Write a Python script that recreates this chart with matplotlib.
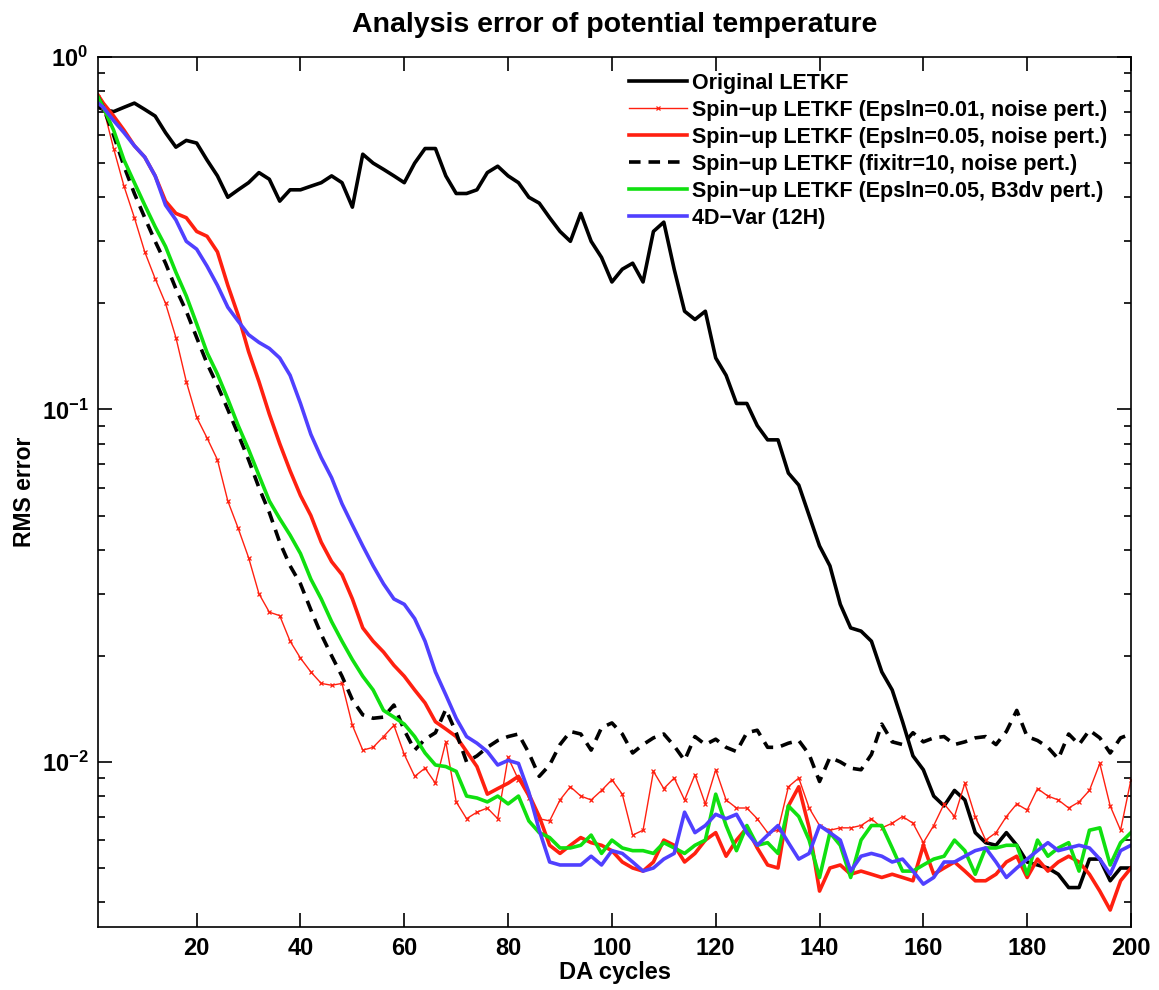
import numpy as np
import matplotlib
matplotlib.use("Agg")
import matplotlib.pyplot as plt

plt.rcParams["font.family"] = ["Liberation Sans", "DejaVu Sans"]
plt.rcParams["mathtext.fontset"] = "custom"
plt.rcParams["mathtext.rm"] = "Liberation Sans:bold"
plt.rcParams["mathtext.default"] = "rm"

# DA cycle index (first cycle, then every second cycle)
cycles = [1] + list(range(2, 201, 2))

original = [0.72, 0.71, 0.70, 0.72, 0.74, 0.71, 0.68, 0.61, 0.555, 0.58,
            0.57, 0.51, 0.46, 0.40, 0.42, 0.44, 0.47, 0.45, 0.39, 0.42,
            0.42, 0.43, 0.44, 0.46, 0.44, 0.375, 0.53, 0.50, 0.48, 0.46,
            0.44, 0.50, 0.55, 0.55, 0.46, 0.41, 0.41, 0.42, 0.47, 0.49,
            0.46, 0.44, 0.40, 0.385, 0.35, 0.32, 0.30, 0.36, 0.30, 0.27,
            0.23, 0.25, 0.26, 0.23, 0.32, 0.34, 0.25, 0.19, 0.18, 0.19,
            0.14, 0.125, 0.104, 0.104, 0.09, 0.082, 0.082, 0.066, 0.061, 0.05,
            0.041, 0.036, 0.028, 0.024, 0.0235, 0.022, 0.018, 0.016, 0.013, 0.0104,
            0.0095, 0.0080, 0.0075, 0.0083, 0.0078, 0.0063, 0.0059, 0.0058, 0.0063, 0.0058,
            0.0052, 0.0051, 0.0050, 0.0048, 0.0044, 0.0044, 0.0053, 0.0053, 0.0046, 0.0050,
            0.0050]

eps001_noise = [0.77, 0.72, 0.55, 0.43, 0.35, 0.28, 0.235, 0.20, 0.16, 0.12,
                0.095, 0.083, 0.072, 0.055, 0.046, 0.038, 0.030, 0.0266, 0.026, 0.022,
                0.0197, 0.018, 0.0167, 0.0165, 0.0167, 0.0127, 0.0108, 0.0110, 0.0118, 0.0127,
                0.0105, 0.0091, 0.0096, 0.0087, 0.0114, 0.0077, 0.0069, 0.0072, 0.0074, 0.0069,
                0.0103, 0.0089, 0.0079, 0.0069, 0.0068, 0.0078, 0.0085, 0.0080, 0.0078, 0.0083,
                0.0089, 0.0081, 0.0062, 0.0064, 0.0094, 0.0084, 0.0090, 0.0078, 0.0092, 0.0076,
                0.0095, 0.0078, 0.0074, 0.0074, 0.0069, 0.0063, 0.0064, 0.0085, 0.0090, 0.0074,
                0.0066, 0.0064, 0.0065, 0.0065, 0.0066, 0.0069, 0.0065, 0.0067, 0.0070, 0.0067,
                0.0059, 0.0066, 0.0076, 0.0070, 0.0087, 0.0070, 0.0060, 0.0063, 0.0070, 0.0076,
                0.0073, 0.0084, 0.0080, 0.0078, 0.0074, 0.0077, 0.0083, 0.0099, 0.0075, 0.0064,
                0.0089]

eps005_noise = [0.78, 0.74, 0.68, 0.62, 0.56, 0.52, 0.46, 0.39, 0.36, 0.35,
                0.32, 0.31, 0.28, 0.225, 0.185, 0.146, 0.12, 0.097, 0.08, 0.067,
                0.057, 0.05, 0.042, 0.037, 0.034, 0.029, 0.024, 0.022, 0.0205, 0.0188,
                0.0175, 0.016, 0.0147, 0.013, 0.0124, 0.0118, 0.0107, 0.0097, 0.0081, 0.0084,
                0.0087, 0.0091, 0.0081, 0.0070, 0.0058, 0.0055, 0.0058, 0.0061, 0.0059, 0.0058,
                0.0056, 0.0052, 0.0050, 0.0049, 0.0052, 0.0060, 0.0058, 0.0052, 0.0055, 0.0060,
                0.0063, 0.0054, 0.0060, 0.0065, 0.0057, 0.0051, 0.0050, 0.0075, 0.0085, 0.0065,
                0.0043, 0.0050, 0.0051, 0.0048, 0.0049, 0.0048, 0.0047, 0.0048, 0.0047, 0.0046,
                0.0058, 0.0048, 0.0050, 0.0052, 0.0049, 0.0046, 0.0046, 0.0048, 0.0052, 0.0054,
                0.0047, 0.0053, 0.0049, 0.0052, 0.0054, 0.0052, 0.0048, 0.0043, 0.0038, 0.0046,
                0.0050]

fixitr10_noise = [0.77, 0.72, 0.60, 0.49, 0.41, 0.35, 0.30, 0.26, 0.22, 0.19,
                  0.16, 0.135, 0.117, 0.10, 0.085, 0.072, 0.060, 0.051, 0.042, 0.036,
                  0.032, 0.027, 0.023, 0.020, 0.0175, 0.015, 0.0136, 0.0133, 0.0134, 0.0145,
                  0.0123, 0.0108, 0.0116, 0.0121, 0.0141, 0.0121, 0.0100, 0.0104, 0.0110, 0.0115,
                  0.0118, 0.0120, 0.0106, 0.0091, 0.0098, 0.0112, 0.0122, 0.0120, 0.0108, 0.0125,
                  0.0129, 0.0120, 0.0106, 0.0112, 0.0117, 0.0120, 0.0111, 0.0101, 0.0118, 0.0112,
                  0.0116, 0.0110, 0.0107, 0.0121, 0.0123, 0.0110, 0.0110, 0.0113, 0.0115, 0.0105,
                  0.0088, 0.0103, 0.0100, 0.0096, 0.0095, 0.0105, 0.0128, 0.0114, 0.0112, 0.0121,
                  0.0114, 0.0117, 0.0118, 0.0112, 0.0114, 0.0117, 0.0118, 0.0112, 0.0122, 0.0140,
                  0.0118, 0.0115, 0.0110, 0.0102, 0.0120, 0.0112, 0.0123, 0.0117, 0.0106, 0.0117,
                  0.0120]

eps005_b3dv = [0.77, 0.72, 0.62, 0.51, 0.44, 0.38, 0.33, 0.29, 0.245, 0.21,
               0.175, 0.145, 0.126, 0.107, 0.09, 0.077, 0.065, 0.055, 0.049, 0.044,
               0.039, 0.033, 0.029, 0.025, 0.022, 0.0195, 0.0175, 0.016, 0.014, 0.0134,
               0.0128, 0.0118, 0.0106, 0.0098, 0.0097, 0.0094, 0.0080, 0.0079, 0.0077, 0.0080,
               0.0076, 0.0080, 0.0068, 0.0063, 0.0061, 0.0057, 0.0057, 0.0058, 0.0062, 0.0055,
               0.0060, 0.0057, 0.0056, 0.0056, 0.0055, 0.0059, 0.0057, 0.0055, 0.0058, 0.0060,
               0.0081, 0.0066, 0.0056, 0.0066, 0.0058, 0.0059, 0.0055, 0.0075, 0.0070, 0.0060,
               0.0047, 0.0063, 0.0058, 0.0047, 0.0060, 0.0066, 0.0066, 0.0057, 0.0049, 0.0049,
               0.0051, 0.0053, 0.0054, 0.0060, 0.0056, 0.0048, 0.0057, 0.0057, 0.0058, 0.0058,
               0.0048, 0.0060, 0.0054, 0.0057, 0.0059, 0.0049, 0.0064, 0.0065, 0.0051, 0.0059,
               0.0063]

var4d_12h = [0.74, 0.72, 0.66, 0.61, 0.56, 0.52, 0.46, 0.38, 0.345, 0.30,
             0.285, 0.255, 0.225, 0.195, 0.178, 0.163, 0.155, 0.149, 0.14, 0.125,
             0.104, 0.085, 0.073, 0.064, 0.054, 0.047, 0.041, 0.036, 0.032, 0.029,
             0.028, 0.0255, 0.022, 0.018, 0.0155, 0.0133, 0.0118, 0.0113, 0.0107, 0.0098,
             0.0101, 0.0099, 0.0082, 0.0064, 0.0052, 0.0051, 0.0051, 0.0051, 0.0054, 0.0051,
             0.0056, 0.0055, 0.0052, 0.0049, 0.0050, 0.0053, 0.0055, 0.0072, 0.0063, 0.0066,
             0.0071, 0.0069, 0.0071, 0.0063, 0.0058, 0.0062, 0.0066, 0.0059, 0.0053, 0.0055,
             0.0066, 0.0063, 0.0060, 0.0049, 0.0054, 0.0055, 0.0054, 0.0052, 0.0053, 0.0049,
             0.0045, 0.0047, 0.0052, 0.0052, 0.0054, 0.0056, 0.0057, 0.0052, 0.0047, 0.0050,
             0.0053, 0.0056, 0.0059, 0.0056, 0.0057, 0.0058, 0.0057, 0.0053, 0.0048, 0.0056,
             0.0058]

labels = ["Original LETKF",
          "Spin\u2212up LETKF (Epsln=0.01, noise pert.)",
          "Spin\u2212up LETKF (Epsln=0.05, noise pert.)",
          "Spin\u2212up LETKF (fixitr=10, noise pert.)",
          "Spin\u2212up LETKF (Epsln=0.05, B3dv pert.)",
          "4D\u2212Var (12H)"]

fig = plt.figure(figsize=(11.59, 9.9), dpi=100)
ax = fig.add_axes([0.0846, 0.0636, 0.8912, 0.8788])

ax.plot(cycles, original, color="black", lw=2.6, label=labels[0])
ax.plot(cycles, eps001_noise, color="#ff2010", lw=1.0, marker="x", ms=3.5,
        mew=0.9, label=labels[1])
ax.plot(cycles, eps005_noise, color="#ff2010", lw=2.6, label=labels[2])
ax.plot(cycles, fixitr10_noise, color="black", lw=2.6, ls=(0, (3.2, 2.2)), label=labels[3])
ax.plot(cycles, eps005_b3dv, color="#10e010", lw=2.6, label=labels[4])
ax.plot(cycles, var4d_12h, color="#5040ff", lw=2.6, label=labels[5])

ax.set_yscale("log")
ax.set_xlim(1, 200)
ax.set_ylim(0.0034, 1)
ax.set_xticks(range(20, 201, 20))
ax.set_yticks([1e-2, 1e-1, 1])
ax.set_yticklabels([r"$10^{-2}$", r"$10^{-1}$", r"$10^{0}$"])
ax.tick_params(which="both", direction="in", top=True, right=True, width=1.2)
ax.tick_params(which="major", length=10, labelsize=17, pad=7)
ax.tick_params(which="minor", length=5)
for lab in ax.get_xticklabels():
    lab.set_fontweight("bold")
for sp in ax.spines.values():
    sp.set_linewidth(1.2)

ax.set_xlabel("DA cycles", fontsize=17, fontweight="bold", labelpad=1)
ax.set_ylabel("RMS error", fontsize=16.5, fontweight="bold", labelpad=4)
ax.set_title("Analysis error of potential temperature", fontsize=20.5,
             fontweight="bold", pad=18)

leg = ax.legend(loc="upper right", frameon=False,
                prop={"size": 15.5, "weight": "bold"}, handlelength=2.7,
                handletextpad=0.25, labelspacing=0.28, borderaxespad=0.2,
                bbox_to_anchor=(0.99, 0.997))

fig.savefig("out.png", dpi=100)
